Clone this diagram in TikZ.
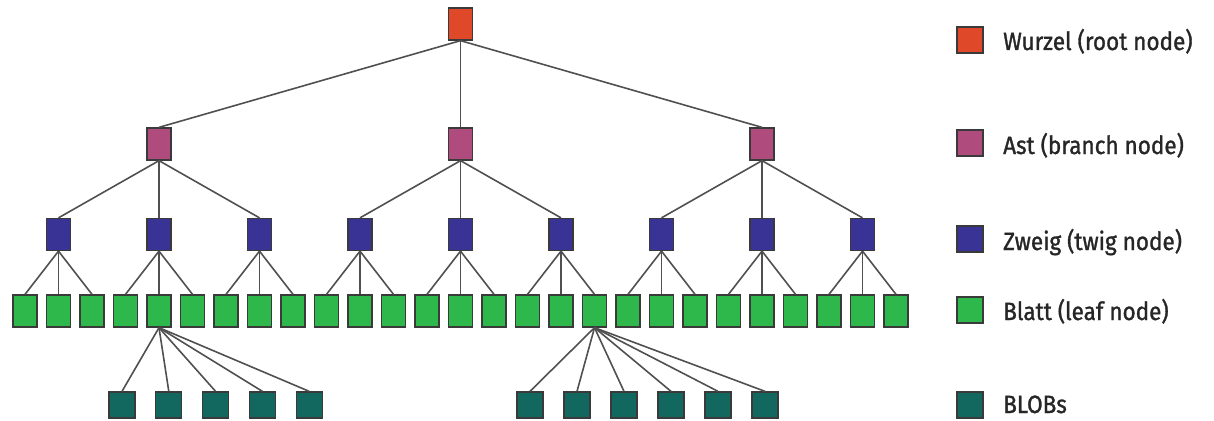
\documentclass[tikz,border=0pt]{standalone}
\usepackage{fontspec}
\setmainfont{Fira Sans}[FakeStretch=0.9, FakeBold=1.2]
\definecolor{rootc}{HTML}{E0482A}
\definecolor{branchc}{HTML}{B04B7E}
\definecolor{twigc}{HTML}{3A3396}
\definecolor{leafc}{HTML}{2EB84C}
\definecolor{blobc}{HTML}{12685F}
\definecolor{edgec}{HTML}{505050}
\definecolor{borderc}{HTML}{3A3A3A}
\tikzset{
  box/.style={rectangle, draw=borderc, line width=1.3pt, inner sep=0pt, minimum width=24pt, minimum height=32pt},
  rootbox/.style={box, fill=rootc},
  branchbox/.style={box, fill=branchc},
  twigbox/.style={box, fill=twigc},
  leafbox/.style={box, fill=leafc},
  blobbox/.style={box, fill=blobc, minimum width=26pt, minimum height=26pt},
  legendbox/.style={box, minimum width=26pt, minimum height=26pt},
  edge/.style={draw=edgec, line width=1.6pt},
  legendtext/.style={anchor=base west, inner sep=0pt, font=\fontsize{25}{30}\selectfont, text=black!85}
}
\begin{document}
\begin{tikzpicture}[x=1pt,y=-1pt]
\useasboundingbox (0,0) rectangle (1214,420);
% root
\node[rootbox] (root) at (460.5,24) {};
% branches
\foreach \j in {0,1,2}{
  \pgfmathsetmacro{\bx}{58.5+(3*\j+1)*100.5}
  \node[branchbox] (b\j) at (\bx,144) {};
}
% twigs
\foreach \i in {0,...,8}{
  \pgfmathsetmacro{\tx}{25+(3*\i+1)*33.5}
  \node[twigbox] (t\i) at (\tx,234.5) {};
}
% leaves
\foreach \i in {0,...,26}{
  \pgfmathsetmacro{\lx}{25+\i*33.5}
  \node[leafbox] (l\i) at (\lx,311) {};
}
% blobs group 1
\foreach \k in {0,...,4}{
  \pgfmathsetmacro{\px}{122+\k*46.8}
  \node[blobbox] (p\k) at (\px,405) {};
}
% blobs group 2
\foreach \k in {0,...,5}{
  \pgfmathsetmacro{\qx}{530+\k*47}
  \node[blobbox] (q\k) at (\qx,405) {};
}
% edges
\foreach \j in {0,1,2}{
  \draw[edge] (root.south) -- (b\j.north);
  \foreach \k in {0,1,2}{
    \pgfmathtruncatemacro{\ti}{3*\j+\k}
    \draw[edge] (b\j.south) -- (t\ti.north);
  }
}
\foreach \i in {0,...,8}{
  \foreach \k in {0,1,2}{
    \pgfmathtruncatemacro{\li}{3*\i+\k}
    \draw[edge] (t\i.south) -- (l\li.north);
  }
}
\foreach \k in {0,...,4}{
  \draw[edge] (l4.south) -- (p\k.north);
}
\foreach \k in {0,...,5}{
  \draw[edge] (l17.south) -- (q\k.north);
}
% legend
\node[legendbox, fill=rootc] (k1) at (970,40) {};
\node[legendbox, fill=branchc] (k2) at (970,143) {};
\node[legendbox, fill=twigc] (k3) at (970,239) {};
\node[legendbox, fill=leafc] (k4) at (970,310) {};
\node[legendbox, fill=blobc] (k5) at (970,405) {};
\node[legendtext] (w1) at (1003,50) {Wurzel (root node)};
\node[legendtext] (w2) at (1003,154) {Ast (branch node)};
\node[legendtext] (w3) at (1003,250) {Zweig (twig node)};
\node[legendtext] (w4) at (1003,320) {Blatt (leaf node)};
\node[legendtext] (w5) at (1003,413) {BLOBs};
\end{tikzpicture}
\end{document}
